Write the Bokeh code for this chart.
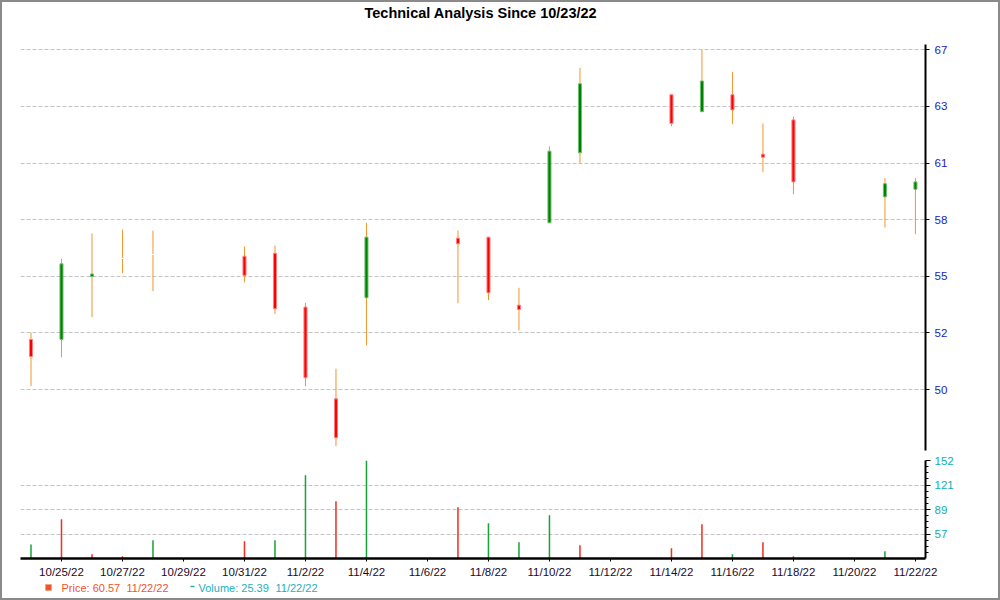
import numpy as np
import pandas as pd
from bokeh.plotting import figure
from bokeh.layouts import column
from bokeh.models import ColumnDataSource, Range1d, FixedTicker
from bokeh.core.properties import value
from bokeh.embed import file_html
from bokeh.resources import INLINE

# ---------------- data ----------------
dates = ["2022-10-24", "2022-10-25", "2022-10-26", "2022-10-27", "2022-10-28",
         "2022-10-31", "2022-11-01", "2022-11-02", "2022-11-03", "2022-11-04",
         "2022-11-07", "2022-11-08", "2022-11-09", "2022-11-10", "2022-11-11",
         "2022-11-14", "2022-11-15", "2022-11-16", "2022-11-17", "2022-11-18",
         "2022-11-21", "2022-11-22"]
open_ = [52.46, 52.46, 55.62, 56.52, 56.72, 56.63, 56.78, 54.08, 49.48, 54.55,
         57.54, 57.59, 54.18, 58.31, 61.82, 64.73, 63.88, 64.73, 61.75, 63.47,
         59.61, 59.99]
high = [52.81, 56.50, 57.77, 57.97, 57.92, 57.12, 57.17, 54.30, 50.99, 58.31,
        57.92, 57.59, 55.05, 62.14, 66.08, 64.73, 66.98, 65.88, 63.29, 63.64,
        60.55, 60.55]
low = [50.12, 51.57, 53.58, 55.78, 54.88, 55.33, 53.73, 50.12, 47.11, 52.16,
       54.28, 54.43, 52.91, 58.31, 61.30, 63.15, 63.88, 63.25, 60.85, 59.74,
       58.07, 57.74]
close = [51.60, 56.25, 55.74, 56.52, 56.72, 55.67, 54.00, 50.54, 47.53, 57.59,
         57.26, 54.80, 53.96, 61.90, 65.28, 63.29, 65.42, 63.97, 61.60, 60.36,
         60.27, 60.36]
volume = [43.5, 76.2, 31.0, 28.4, 49.0, 47.7, 49.0, 133.0, 99.4, 152.0,
          91.7, 71.0, 46.5, 81.3, 42.6, 38.7, 69.7, 31.0, 46.5, 28.4,
          34.8, 25.39]
volume_dir = ["up", "down", "down", "down", "up", "down", "up", "up", "down", "up",
              "down", "up", "up", "up", "down", "down", "down", "up", "down", "down",
              "up", "up"]

x_tick_dates = ["2022-10-25", "2022-10-27", "2022-10-29", "2022-10-31", "2022-11-02",
                "2022-11-04", "2022-11-06", "2022-11-08", "2022-11-10", "2022-11-12",
                "2022-11-14", "2022-11-16", "2022-11-18", "2022-11-20", "2022-11-22"]
x_tick_labels = ["10/25/22", "10/27/22", "10/29/22", "10/31/22", "11/2/22",
                 "11/4/22", "11/6/22", "11/8/22", "11/10/22", "11/12/22",
                 "11/14/22", "11/16/22", "11/18/22", "11/20/22", "11/22/22"]
price_tick_labels = ["50", "52", "55", "58", "61", "63", "67"]
volume_tick_labels = ["57", "89", "121", "152"]

title_text = "Technical Analysis Since 10/23/22"
legend_date = "11/22/22"
price_legend = "Price: 60.57"
volume_legend = "Volume: 25.39"

# ---------------- styles ----------------
FONT = "Liberation Sans"
WICK = "#f0962d"
UP_FILL, UP_LINE = "#008000", "#6cbf6c"
DN_FILL, DN_LINE = "#ff0000", "#ff8080"
VOL_UP, VOL_DN = "#1aa33a", "#f03020"
GRID = "#c4c4c4"
PRICE_TXT = "#f2542a"
VOL_TXT = "#1ab0bd"

base = pd.Timestamp("2022-10-24")
xd = (pd.to_datetime(dates) - base).days.values.astype(float)
xt = (pd.to_datetime(x_tick_dates) - base).days.values.astype(float)

o = np.array(open_); c = np.array(close)
body_fill = [UP_FILL if cc > oo else (DN_FILL if cc < oo else "white") for oo, cc in zip(o, c)]
body_line = [UP_LINE if cc > oo else (DN_LINE if cc < oo else "white") for oo, cc in zip(o, c)]

src = ColumnDataSource(dict(x=xd, open=o, close=c, high=high, low=low,
                            top=np.maximum(o, c), bottom=np.minimum(o, c),
                            fill=body_fill, line=body_line,
                            volume=volume,
                            vcol=[VOL_UP if d == "up" else VOL_DN for d in volume_dir]))

x_range = Range1d(-0.344, 29.33)

# ---------------- title row ----------------
p0 = figure(width=996, height=22, x_range=Range1d(0, 1), y_range=Range1d(0, 1),
            output_backend="svg", toolbar_location=None,
            x_axis_location=None, y_axis_location=None,
            min_border_left=18, min_border_right=73, min_border_top=0, min_border_bottom=0,
            title=title_text)
p0.outline_line_color = None
p0.grid.visible = False
p0.title.text_font = FONT
p0.title.text_font_size = "14.5px"
p0.title.text_font_style = "bold"
p0.title.text_color = "black"
p0.title.align = "left"
p0.title.offset = 344
p0.title.standoff = 0

# ---------------- price panel ----------------
p1 = figure(width=996, height=431, x_range=x_range, y_range=Range1d(46.89, 67.25),
            output_backend="svg", toolbar_location=None,
            x_axis_location=None, y_axis_location="right",
            min_border_left=18, min_border_right=73, min_border_top=20, min_border_bottom=5)
p1.outline_line_color = None

plo, phi = min(low), max(high)
price_ticks = [plo + k * (phi - plo) / 7 for k in range(1, 8)]
p1.yaxis.ticker = FixedTicker(ticks=price_ticks)
p1.yaxis.major_label_overrides = {t: l for t, l in zip(price_ticks, price_tick_labels)}
p1.yaxis.axis_line_width = 2
p1.yaxis.axis_line_color = "black"
p1.yaxis.major_tick_out = 4
p1.yaxis.major_tick_in = 0
p1.yaxis.minor_tick_out = 0
p1.yaxis.major_tick_line_width = 1
p1.yaxis.major_label_standoff = 5
p1.yaxis.major_label_text_font = FONT
p1.yaxis.major_label_text_font_size = "11.5px"
p1.yaxis.major_label_text_color = "#1a1ac8"
p1.xgrid.visible = False
p1.ygrid.ticker = FixedTicker(ticks=price_ticks)
p1.ygrid.grid_line_color = GRID
p1.ygrid.grid_line_dash = "4 2"

p1.segment(x0="x", y0="low", x1="x", y1="high", source=src, line_color=WICK, line_width=1)
p1.vbar(x="x", width=0.1, top="top", bottom="bottom", source=src,
        fill_color="fill", line_color="line", line_width=1)

# ---------------- volume panel ----------------
vlo, vhi = min(volume), max(volume)
p2 = figure(width=996, height=125, x_range=x_range, y_range=Range1d(vlo, vhi),
            output_backend="svg", toolbar_location=None,
            y_axis_location="right",
            min_border_left=18, min_border_right=73, min_border_top=5, min_border_bottom=22)
p2.outline_line_color = None
vol_ticks = [vlo + k * (vhi - vlo) / 4 for k in range(1, 5)]
minor = []
for a, b in zip([vlo] + vol_ticks[:-1], vol_ticks):
    minor += list(np.linspace(a, b, 5)[1:-1])
p2.yaxis.ticker = FixedTicker(ticks=vol_ticks, minor_ticks=minor)
p2.yaxis.major_label_overrides = {t: l for t, l in zip(vol_ticks, volume_tick_labels)}
p2.yaxis.axis_line_width = 2
p2.yaxis.axis_line_color = "black"
p2.yaxis.major_tick_out = 5
p2.yaxis.major_tick_in = 0
p2.yaxis.minor_tick_out = 3
p2.yaxis.minor_tick_in = 0
p2.yaxis.major_label_standoff = 4
p2.yaxis.major_label_text_font = FONT
p2.yaxis.major_label_text_font_size = "11.5px"
p2.yaxis.major_label_text_color = "#10adb5"

p2.xaxis.ticker = FixedTicker(ticks=list(xt))
p2.xaxis.major_label_overrides = {float(t): l for t, l in zip(xt, x_tick_labels)}
p2.xaxis.axis_line_width = 2.5
p2.xaxis.axis_line_color = "black"
p2.xaxis.major_tick_out = 3
p2.xaxis.major_tick_in = 0
p2.xaxis.minor_tick_out = 0
p2.xaxis.major_label_standoff = 4
p2.xaxis.major_label_text_font = FONT
p2.xaxis.major_label_text_font_size = "11.5px"
p2.xaxis.major_label_text_color = "#1a0a2a"

p2.xgrid.visible = False
p2.ygrid.ticker = FixedTicker(ticks=vol_ticks[:-1])
p2.ygrid.grid_line_color = GRID
p2.ygrid.grid_line_dash = "4 2"

p2.vbar(x="x", width=0.05, top="volume", bottom=vlo, source=src,
        fill_color="vcol", line_color=None)

# ---------------- legend row (x in figure pixels) ----------------
p3 = figure(width=996, height=18, x_range=Range1d(18, 923), y_range=Range1d(0, 18),
            output_backend="svg", toolbar_location=None,
            x_axis_location=None, y_axis_location=None,
            min_border_left=18, min_border_right=73, min_border_top=0, min_border_bottom=0)
p3.outline_line_color = None
p3.grid.visible = False
p3.scatter(x=[46], y=[11], marker="square", size=6, fill_color=PRICE_TXT, line_color="#f8a080")
p3.text(x=[59, 124], y=[11, 11], text=[price_legend, legend_date], text_font=value(FONT),
        text_font_size="11px", text_color=PRICE_TXT, text_baseline="middle")
p3.segment(x0=[188], y0=[12], x1=[192], y1=[12], line_color=VOL_TXT, line_width=1.5)
p3.text(x=[196, 273], y=[11, 11], text=[volume_legend, legend_date], text_font=value(FONT),
        text_font_size="11px", text_color=VOL_TXT, text_baseline="middle")

layout = column(p0, p1, p2, p3, spacing=0, styles={"border": "2px solid #8a8a8a"})
open("out.html", "w").write(file_html(layout, INLINE))
